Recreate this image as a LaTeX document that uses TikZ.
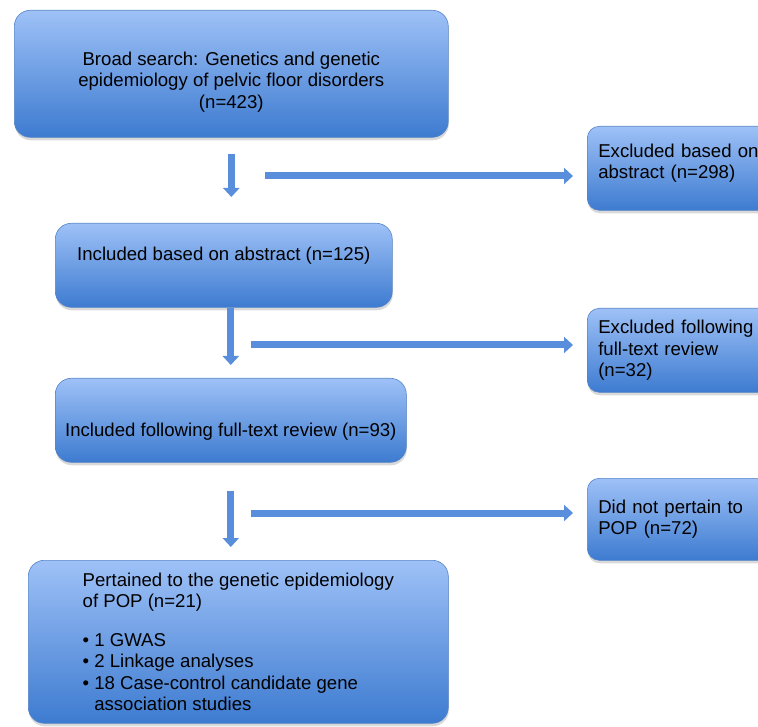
\documentclass[tikz,border=0pt]{standalone}
\usepackage{fontspec}
\setmainfont{Liberation Sans}
\usepackage{xcolor}
\usepackage{tikz}
\usetikzlibrary{arrows.meta,shadows}

\definecolor{boxtop}{RGB}{158,193,247}
\definecolor{boxbot}{RGB}{61,123,208}
\definecolor{boxline}{RGB}{84,132,200}
\definecolor{arrblue}{RGB}{88,142,220}

\begin{document}
\begin{tikzpicture}[x=1pt, y=-1pt,
    every node/.style={font=\fontsize{18.6}{21.5}\selectfont},
    flowbox/.style={draw=boxline, line width=0.6pt, rounded corners=16pt,
        top color=boxtop, bottom color=boxbot, anchor=north west,
        inner xsep=0pt, inner ysep=0pt, align=left,
        drop shadow={shadow xshift=0.5pt, shadow yshift=-3pt, opacity=0.3}},
    sidebox/.style={flowbox, rounded corners=12pt, inner xsep=11pt,
        minimum width=190pt, text width=168pt},
    blockarrow/.style={line width=7pt, draw=arrblue,
        -{Triangle[width=16pt,length=9pt]}}]
    \clip (0,0) rectangle (758,727);

    \node[flowbox, align=center, minimum width=434pt, minimum height=127pt]
        (b1) at (14,10) {\rule{0pt}{29.5pt}Broad search: Genetics and genetic\\
        epidemiology of pelvic floor disorders\\ (n=423)};
    \node[flowbox, minimum width=337pt, minimum height=84pt, text depth=24pt]
        (b2) at (55,223) {Included based on abstract (n=125)};
    \node[flowbox, minimum width=351pt, minimum height=84pt, text height=35.5pt]
        (b3) at (55,378) {Included following full-text review (n=93)};
    \node[flowbox, minimum width=420pt, minimum height=163pt]
        (b4) at (28,560) {Pertained to the genetic epidemiology\\ of POP (n=21)\\[17pt]
        \textbullet\ 1 GWAS\\ \textbullet\ 2 Linkage analyses\\
        \textbullet\ 18 Case-control candidate gene\\ \hspace*{11.6pt}association studies};

    \node[sidebox, minimum height=84pt] (e1) at (587,126)
        {Excluded based on abstract (n=298)\rule[-14pt]{0pt}{0pt}};
    \node[sidebox, minimum height=84pt] (e2) at (587,308)
        {Excluded following\\ full-text review\\ (n=32)};
    \node[sidebox, minimum height=82pt] (e3) at (587,478)
        {Did not pertain to\\ POP (n=72)};

    \draw[blockarrow, shorten <=16pt, shorten >=26pt] (b1.south) -- (b1.south |- b2.north);
    \draw[blockarrow, shorten >=13pt] (b3.north |- b2.south) -- (b3.north);
    \draw[blockarrow, shorten <=28pt, shorten >=13pt] (b3.south) -- (b3.south |- b4.north);

    \coordinate (h1) at (265,176);
    \coordinate (h2) at (251,345);
    \coordinate (h3) at (251,513);
    \foreach \h/\e in {h1/e1,h2/e2,h3/e3}
        \draw[blockarrow, shorten >=14pt] (\h) -- (\h -| \e.west);
\end{tikzpicture}
\end{document}
